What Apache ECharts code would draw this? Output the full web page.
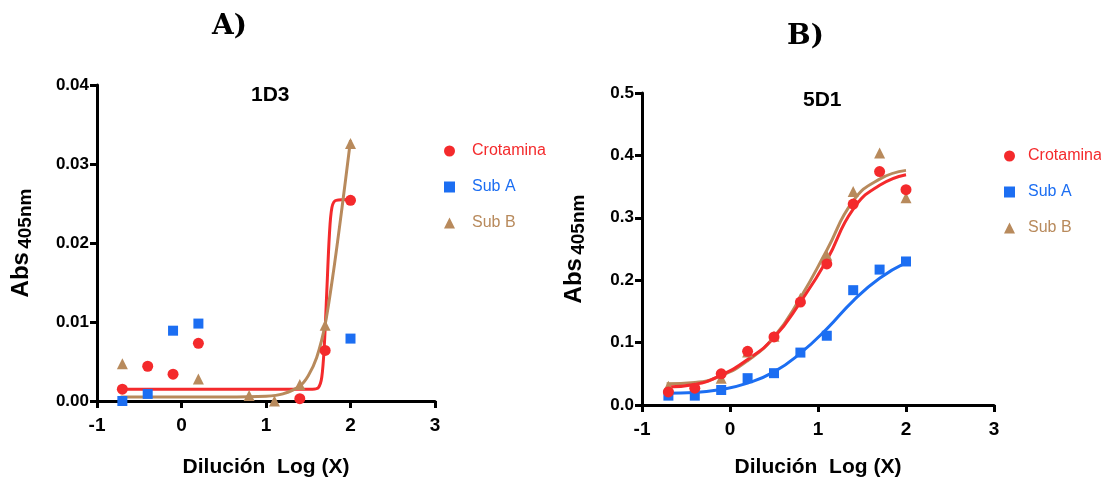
<!DOCTYPE html>
<html>
<head>
<meta charset="utf-8">
<script src="https://cdn.jsdelivr.net/npm/echarts@6/dist/echarts.min.js"></script>
<style>
  html, body { margin: 0; padding: 0; background: #fff; }
  #chart { width: 1101px; height: 493px; }
</style>
</head>
<body>
<div id="chart"></div>
<script>
// ---- datos ----
const xTicks = [-1, 0, 1, 2, 3]
const yTicksA = [0, 0.01, 0.02, 0.03, 0.04]
const yTicksB = [0, 0.1, 0.2, 0.3, 0.4, 0.5]

// Panel A (1D3)
const crotA = [[-0.7, 0.0015], [-0.4, 0.0044], [-0.1, 0.0034], [0.2, 0.0073], [1.4, 0.0003], [1.7, 0.0064], [2.0, 0.0254]]
const subAA = [[-0.7, 0.0], [-0.4, 0.0009], [-0.1, 0.0089], [0.2, 0.0098], [2.0, 0.0079]]
const subBA = [[-0.7, 0.0047], [0.2, 0.0028], [0.8, 0.0007], [1.1, 0.0], [1.4, 0.0021], [1.7, 0.0096], [2.0, 0.0326]]
// curvas ajustadas (leidas)
const fitCrotA = [[-0.72, 0.0015], [1.55, 0.0015], [1.62, 0.0017], [1.66, 0.003], [1.69, 0.007], [1.72, 0.014], [1.75, 0.021], [1.78, 0.0245], [1.83, 0.0254], [2.0, 0.0255]]
const fitSubBA = [[-0.72, 0.0005], [0.5, 0.0005], [1.0, 0.0006], [1.2, 0.0009], [1.4, 0.0019], [1.5, 0.0032], [1.6, 0.0055], [1.7, 0.0097], [1.8, 0.0165], [1.9, 0.0245], [2.0, 0.033]]

// Panel B (5D1)
const xB = [-0.7, -0.4, -0.1, 0.2, 0.5, 0.8, 1.1, 1.4, 1.7, 2.0]
const crotB = [0.021, 0.027, 0.050, 0.086, 0.109, 0.165, 0.226, 0.322, 0.374, 0.345]
const subAB = [0.015, 0.015, 0.024, 0.043, 0.051, 0.084, 0.111, 0.184, 0.217, 0.230]
const subBB = [0.030, 0.030, 0.043, 0.085, 0.110, 0.171, 0.240, 0.342, 0.404, 0.332]
const xFitB = [-0.72, -0.4, -0.1, 0.2, 0.5, 0.8, 1.1, 1.4, 1.7, 2.0]
const fitCrotB = [0.029, 0.033, 0.048, 0.073, 0.108, 0.165, 0.232, 0.314, 0.352, 0.369]
const fitSubAB = [0.019, 0.020, 0.025, 0.035, 0.053, 0.083, 0.122, 0.167, 0.203, 0.228]
const fitSubBB = [0.034, 0.036, 0.047, 0.071, 0.109, 0.172, 0.248, 0.327, 0.362, 0.376]

const RED = '#f42a2c'
const BLUE = '#1c6ef2'
const BROWN = '#b88a5c'
const FONT = 'Liberation Sans, Arial, sans-serif'

const zip = (xs, ys) => xs.map((x, i) => [x, ys[i]])

function xAxisCfg(grid, gap) {
  return {
    gridIndex: grid, type: 'value', min: xTicks[0], max: xTicks[xTicks.length - 1], interval: 1,
    splitLine: {show: false},
    axisLine: {onZero: false, lineStyle: {color: '#000', width: 3}},
    axisTick: {length: 7, lineStyle: {color: '#000', width: 3}},
    axisLabel: {color: '#000', fontFamily: FONT, fontWeight: 'bold', fontSize: 19, margin: 15},
    name: 'Dilución  Log (X)', nameLocation: 'middle', nameGap: gap,
    nameTextStyle: {color: '#000', fontFamily: FONT, fontWeight: 'bold', fontSize: 21}
  }
}

function yAxisCfg(grid, ticks, dec, gap) {
  return {
    gridIndex: grid, type: 'value', min: ticks[0], max: ticks[ticks.length - 1], interval: ticks[1] - ticks[0],
    splitLine: {show: false},
    axisLine: {show: true, onZero: false, lineStyle: {color: '#000', width: 3}},
    axisTick: {show: true, length: 7, lineStyle: {color: '#000', width: 3}},
    axisLabel: {color: '#000', fontFamily: FONT, fontWeight: 'bold', fontSize: 17, margin: 8,
      formatter: v => v.toFixed(dec)},
    name: '{a|Abs} {b|405nm}', nameLocation: 'middle', nameGap: gap, nameRotate: 90,
    nameTextStyle: {
      rich: {
        a: {fontFamily: FONT, fontWeight: 'bold', fontSize: 24, color: '#000'},
        b: {fontFamily: FONT, fontWeight: 'bold', fontSize: 19, color: '#000', padding: [8, 0, 0, 0]}
      }
    }
  }
}

function scatter(name, data, sym, color, xi) {
  return {
    name: name, type: 'scatter', xAxisIndex: xi, yAxisIndex: xi, data: data,
    symbol: sym, symbolSize: sym === 'rect' ? 10 : 11, itemStyle: {color: color, opacity: 1}, z: 3
  }
}

function curve(data, color, xi, smooth) {
  return {
    type: 'line', xAxisIndex: xi, yAxisIndex: xi, data: data, showSymbol: false, smooth: smooth,
    lineStyle: {color: color, width: 3}, silent: true, z: 2
  }
}

function legendCfg(left, top, pad) {
  return {
    orient: 'vertical', left: left, top: top, itemGap: 20, itemWidth: 11, itemHeight: 11,
    textStyle: {fontFamily: FONT, fontSize: 16, padding: [0, 0, 0, pad]},
    data: [
      {name: 'Crotamina', icon: 'circle', textStyle: {color: RED}},
      {name: 'Sub A', icon: 'rect', textStyle: {color: BLUE}},
      {name: 'Sub B', icon: 'triangle', textStyle: {color: BROWN}}
    ]
  }
}

const chart = echarts.init(document.getElementById('chart'))
const option = {
  animation: false,
  backgroundColor: '#fff',
  title: [
    {text: 'A)', left: 207, top: 8, textStyle: {fontFamily: 'DejaVu Serif, serif', fontWeight: 'bold', fontSize: 28, color: '#000'}},
    {text: 'B)', left: 782, top: 18, textStyle: {fontFamily: 'DejaVu Serif, serif', fontWeight: 'bold', fontSize: 28, color: '#000'}},
    {text: '1D3', left: 246, top: 80, textStyle: {fontFamily: FONT, fontWeight: 'bold', fontSize: 21, color: '#000'}},
    {text: '5D1', left: 798, top: 85, textStyle: {fontFamily: FONT, fontWeight: 'bold', fontSize: 21, color: '#000'}}
  ],
  legend: [legendCfg(439, 138, 12), legendCfg(999, 143, 8)],
  grid: [
    {left: 97, top: 85, width: 338, height: 316},
    {left: 642, top: 93, width: 352, height: 312}
  ],
  xAxis: [xAxisCfg(0, 56), xAxisCfg(1, 52)],
  yAxis: [yAxisCfg(0, yTicksA, 2, 62), yAxisCfg(1, yTicksB, 1, 54)],
  series: [
    curve(fitCrotA, RED, 0, 0.3),
    curve(fitSubBA, BROWN, 0, 0.3),
    scatter('Crotamina', crotA, 'circle', RED, 0),
    scatter('Sub A', subAA, 'rect', BLUE, 0),
    scatter('Sub B', subBA, 'triangle', BROWN, 0),
    curve(zip(xFitB, fitSubBB), BROWN, 1, true),
    curve(zip(xFitB, fitCrotB), RED, 1, true),
    curve(zip(xFitB, fitSubAB), BLUE, 1, true),
    scatter('Sub B', zip(xB, subBB), 'triangle', BROWN, 1),
    scatter('Sub A', zip(xB, subAB), 'rect', BLUE, 1),
    scatter('Crotamina', zip(xB, crotB), 'circle', RED, 1)
  ]
}
chart.setOption(option)
</script>
</body>
</html>
